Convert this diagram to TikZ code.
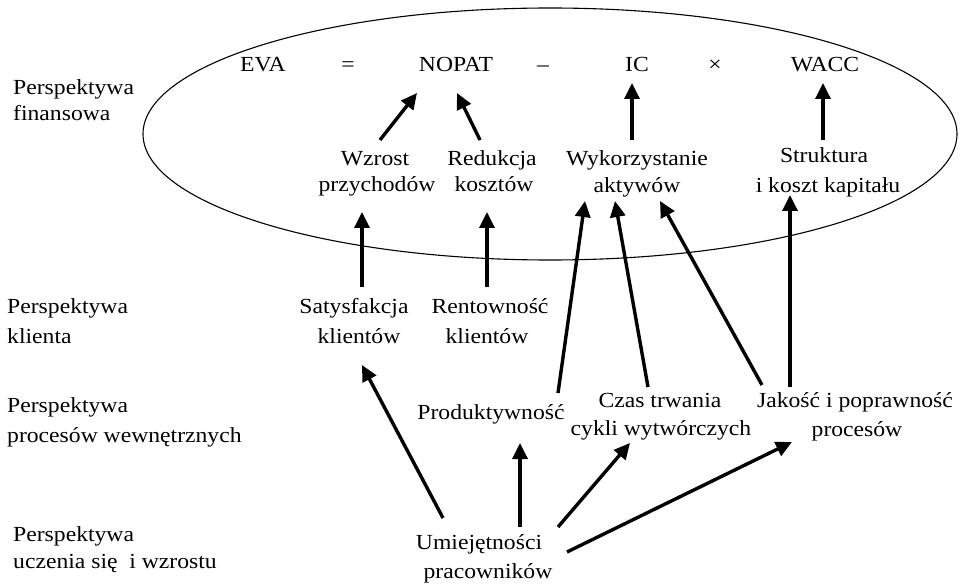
\documentclass[tikz,border=0pt]{standalone}
\usepackage{fontspec}
\setmainfont{Liberation Serif}[FakeStretch=1.1]
\usetikzlibrary{arrows.meta,calc}
\begin{document}
\begin{tikzpicture}[x=1pt,y=-1pt,
  txt/.style={inner sep=0pt, anchor=base, font=\fontsize{21.5}{25}\selectfont},
  lbl/.style={txt, anchor=base west},
  arr/.style={line width=3.4pt, -{Triangle[length=16pt,width=15pt]}},
]
\useasboundingbox (0,0) rectangle (961,585);
% ellipse of the financial perspective
\draw[line width=1.1pt] (550,134) ellipse [x radius=407pt, y radius=126pt];

% left labels
\node[lbl] (lf1) at (13,95) {Perspektywa};
\node[lbl] (lf2) at (13,121) {finansowa};
\node[lbl] (lk1) at (7,313) {Perspektywa};
\node[lbl] (lk2) at (7,343) {klienta};
\node[lbl] (lp1) at (7,412) {Perspektywa};
\node[lbl] (lp2) at (7,442) {procesów wewnętrznych};
\node[lbl] (lu1) at (13,541) {Perspektywa};
\node[lbl] (lu2) at (13,568) {uczenia się \ i wzrostu};

% equation
\node[txt] (eva) at (263,72) {EVA};
\node[txt] (eq) at (348,72) {=};
\node[txt] (nopat) at (456,72) {NOPAT};
\node[txt] (minus) at (543,72) {–};
\node[txt] (ic) at (637,72) {IC};
\node[txt] (times) at (715,72) {×};
\node[txt] (wacc) at (825,72) {WACC};

% financial drivers
\node[txt] (wz1) at (375,166) {Wzrost};
\node[txt] (wz2) at (377,192) {przychodów};
\node[txt] (red1) at (492,166) {Redukcja};
\node[txt] (red2) at (494,192) {kosztów};
\node[txt] (wyk1) at (637,166) {Wykorzystanie};
\node[txt] (akt) at (637,193) {aktywów};
\node[txt] (str1) at (824,163) {Struktura};
\node[txt] (kap2) at (828,193) {i koszt kapitału};

% client
\node[txt] (sat1) at (354,313) {Satysfakcja};
\node[txt] (kl1) at (359,343) {klientów};
\node[txt] (rent1) at (490,313) {Rentowność};
\node[txt] (kl2) at (487,343) {klientów};

% processes
\node[txt] (prod) at (491,419) {Produktywność};
\node[txt] (czas1) at (660,407) {Czas trwania};
\node[txt] (cyk) at (661,435) {cykli wytwórczych};
\node[txt] (jak1) at (855,407) {Jakość i poprawność};
\node[txt] (proc) at (857,436) {procesów};

% learning
\node[txt] (um1) at (479,549) {Umiejętności};
\node[txt] (um2) at (488,578) {pracowników};

% arrows
\draw[arr] ($(wz1.base)+(5,-26)$) -- ($(nopat.base)+(-39,21)$);
\draw[arr] ($(red1.base)+(-12,-26)$) -- ($(nopat.base)+(1,21)$);
\draw[arr] ($(wyk1.base)+(-5,-26)$) -- ($(ic.base)+(-5,11)$);
\draw[arr] ($(str1.base)+(-1,-23)$) -- ($(wacc.base)+(-2,11)$);
\draw[arr] ($(sat1.base)+(8,-26)$) -- ($(wz2.base)+(-15,20)$);
\draw[arr] ($(rent1.base)+(-3,-26)$) -- ($(red2.base)+(-7,20)$);
\draw[arr] ($(prod.base)+(67,-26)$) -- ($(akt.base)+(-52,8)$);
\draw[arr] ($(czas1.base)+(-12,-20)$) -- ($(akt.base)+(-22,8)$);
\draw[arr] ($(jak1.base)+(-93,-22)$) -- ($(akt.base)+(23,8)$);
\draw[arr] ($(jak1.base)+(-65,-20)$) -- ($(kap2.base)+(-38,2)$);
\draw[arr] ($(um1.base)+(-36,-31)$) -- ($(kl1.base)+(3,22)$);
\draw[arr] ($(um1.base)+(41,-22)$) -- ($(prod.base)+(29,24)$);
\draw[arr] ($(um1.base)+(79,-22)$) -- ($(cyk.base)+(-31,8)$);
\draw[arr] ($(um2.base)+(79,-26)$) -- ($(proc.base)+(-65,6)$);
\end{tikzpicture}
\end{document}
